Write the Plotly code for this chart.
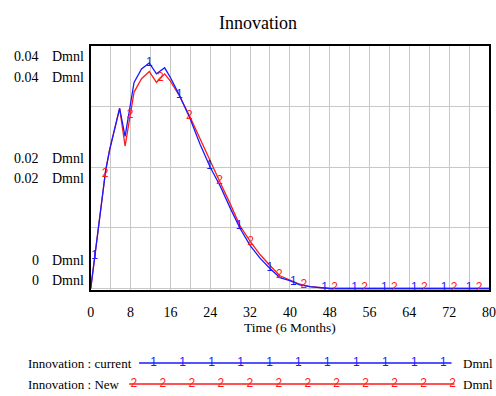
import numpy as np
import plotly.graph_objects as go

# ---------------- data ----------------
t_current = [0, 1, 2, 3, 3.8, 5, 5.8, 6.9, 7.9, 8.7, 10.2, 11.75, 13.2, 14.85, 16, 17.8,
             20, 22, 24, 26, 28, 30, 32, 34, 36, 38, 40, 42, 44, 46, 48, 80]
v_current = [0, 0.0067, 0.0134, 0.0195, 0.0229, 0.0268, 0.0297, 0.0251, 0.0300, 0.0340,
             0.0362, 0.0372, 0.0354, 0.0364, 0.0348, 0.0319, 0.0279, 0.0237, 0.0200, 0.0169,
             0.0133, 0.0099, 0.0071, 0.0050, 0.0033, 0.0018, 0.0013, 0.0006, 0.0003, 0.0001, 0, 0]
t_new = [0, 1, 2, 3, 3.8, 5, 5.8, 6.9, 7.9, 8.7, 10.2, 11.75, 13.2, 14.85, 16, 17.8,
         20, 22, 24, 26, 28, 30, 32, 34, 36, 38, 40, 42, 44, 46, 48, 80]
v_new = [0, 0.0067, 0.0134, 0.0195, 0.0229, 0.0268, 0.0297, 0.0235, 0.0286, 0.0324,
         0.0346, 0.0358, 0.0340, 0.0354, 0.0342, 0.0318, 0.0282, 0.0246, 0.0208, 0.0175,
         0.0140, 0.0103, 0.0078, 0.0056, 0.0038, 0.0021, 0.0014, 0.0007, 0.0003, 0.0001, 0, 0]

marks_current = [0.8, 11.75, 17.8, 23.9, 29.8, 36.0, 40.7, 47.0, 53.0, 59.0, 65.0, 71.0, 76.0]
marks_new = [2.9, 7.9, 14.0, 19.8, 25.9, 32.1, 37.9, 42.8, 49.0, 55.0, 61.0, 67.0, 73.0, 78.0]

x_ticks = [0, 8, 16, 24, 32, 40, 48, 56, 64, 72, 80]
y_label_values = ["0.04", "0.04", "0.02", "0.02", "0", "0"]
y_label_unit = "Dmnl"

series_names = ["Innovation : current", "Innovation : New"]
series_colors = ["#1a1aff", "#ff1a1a"]
series_marks = ["1", "2"]

title = "Innovation"
x_title = "Time (6 Months)"

# ---------------- layout helpers ----------------
W, H = 496, 396
ML, MR, MT, MB = 0, 4, 46, 4
PW, PH = W - ML - MR, H - MT - MB


def px(x):
    return (x - ML) / PW


def py(y):
    return (H - MB - y) / PH


SERIF = "Liberation Serif, Times New Roman, serif"
SANS = "Liberation Sans, Arial, sans-serif"

fig = go.Figure()

# main series (New underneath, current on top)
for tt, vv, col in [(t_new, v_new, series_colors[1]), (t_current, v_current, series_colors[0])]:
    fig.add_trace(go.Scatter(x=tt, y=vv, mode="lines", line=dict(color=col, width=1.3),
                             showlegend=False, hoverinfo="skip"))

for tt, vv, mk_t, col, mk in [(t_new, v_new, marks_new, series_colors[1], series_marks[1]),
                              (t_current, v_current, marks_current, series_colors[0], series_marks[0])]:
    ym = np.interp(mk_t, tt, vv)
    fig.add_trace(go.Scatter(x=mk_t, y=ym, mode="text", text=[mk] * len(mk_t),
                             textposition="middle center",
                             textfont=dict(family=SANS, size=12, color=col),
                             showlegend=False, hoverinfo="skip", cliponaxis=False))

# legend (drawn on a hidden pixel-scaled axis in the bottom strip)
leg_y = [363, 384]
leg_line_x = [(137, 454), (127, 457)]
leg_mark_start = [151.7, 131.7]
leg_mark_n = [11, 12]
leg_mark_step = 29.4
for i in range(2):
    fig.add_trace(go.Scatter(x=list(leg_line_x[i]), y=[leg_y[i]] * 2, mode="lines",
                             line=dict(color=series_colors[i], width=1.3),
                             xaxis="x2", yaxis="y2", showlegend=False, hoverinfo="skip"))
    mx = [leg_mark_start[i] + leg_mark_step * k for k in range(leg_mark_n[i])]
    fig.add_trace(go.Scatter(x=mx, y=[leg_y[i]] * len(mx), mode="text",
                             text=[series_marks[i]] * len(mx),
                             textfont=dict(family=SANS, size=12, color=series_colors[i]),
                             xaxis="x2", yaxis="y2", showlegend=False, hoverinfo="skip",
                             cliponaxis=False))

annotations = []
# title
annotations.append(dict(text=title, x=px(258), y=py(23), xref="paper", yref="paper",
                        showarrow=False, xanchor="center", yanchor="middle",
                        font=dict(family=SERIF, size=18, color="black")))
# x-axis title
annotations.append(dict(text=x_title, x=px(290), y=py(327), xref="paper", yref="paper",
                        showarrow=False, xanchor="center", yanchor="middle",
                        font=dict(family=SERIF, size=13.5, color="black")))
# y labels
y_label_pos = [57, 78, 158, 178, 260, 280]
for lab, yp in zip(y_label_values, y_label_pos):
    annotations.append(dict(text=lab, x=px(38), y=py(yp), xref="paper", yref="paper",
                            showarrow=False, xanchor="right", yanchor="middle",
                            font=dict(family=SERIF, size=14, color="black")))
    annotations.append(dict(text=y_label_unit, x=px(47), y=py(yp), xref="paper", yref="paper",
                            showarrow=False, xanchor="left", yanchor="middle",
                            font=dict(family=SERIF, size=14, color="black")))
# legend texts
for i in range(2):
    annotations.append(dict(text=series_names[i], x=px(22), y=py(leg_y[i]), xref="paper",
                            yref="paper", showarrow=False, xanchor="left", yanchor="middle",
                            font=dict(family=SERIF, size=13, color="black")))
    annotations.append(dict(text=y_label_unit, x=px(464), y=py(leg_y[i]), xref="paper",
                            yref="paper", showarrow=False, xanchor="left", yanchor="middle",
                            font=dict(family=SERIF, size=13, color="black")))

GRID = "#c8c8c8"
fig.update_layout(
    width=W, height=H,
    margin=dict(l=ML, r=MR, t=MT, b=MB, pad=0),
    paper_bgcolor="white", plot_bgcolor="white",
    showlegend=False,
    annotations=annotations,
    xaxis=dict(domain=[px(88), 1], range=[0, 80], tickvals=x_ticks,
               ticktext=[str(v) for v in x_ticks], showgrid=True, gridcolor=GRID, gridwidth=1,
               minor=dict(dtick=4, tick0=0, showgrid=True, gridcolor=GRID, gridwidth=1),
               showline=True, linecolor="black", linewidth=2, mirror=True,
               ticks="", ticklabelstandoff=8, ticklabeloverflow="allow", zeroline=False,
               tickfont=dict(family=SERIF, size=14, color="black")),
    yaxis=dict(domain=[py(290), 1], range=[-0.00025, 0.04], dtick=0.01, tick0=0,
               showgrid=True, gridcolor=GRID, gridwidth=1, showticklabels=False,
               showline=True, linecolor="black", linewidth=2, mirror=True,
               ticks="", zeroline=False),
    xaxis2=dict(domain=[0, 1], range=[ML, ML + PW], visible=False, anchor="y2"),
    yaxis2=dict(domain=[0, py(332)], range=[H - MB, 332], visible=False, anchor="x2"),
)

fig.write_html("out.html")
